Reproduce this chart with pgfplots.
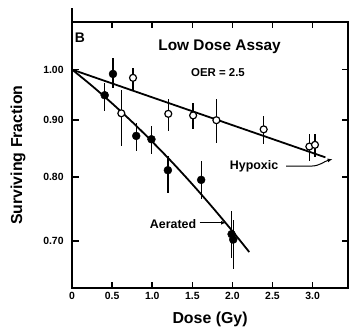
\documentclass[border=0pt]{standalone}
\usepackage{pgfplots}
\pgfplotsset{compat=1.18}
\usepackage{fontspec}
\setmainfont{Liberation Sans}
\usetikzlibrary{arrows.meta}
\begin{document}
\begin{tikzpicture}
\begin{axis}[
  scale only axis, width=276.7bp, height=267.6bp,
  xmin=0, xmax=3.442, ymode=log, ymin=0.634, ymax=1.105,
  xtick={0,0.5,1.0,1.5,2.0,2.5,3.0},
  xticklabels={0,0.5,1.0,1.5,2.0,2.5,3.0},
  ytick={0.7,0.8,0.9,1.0},
  yticklabels={0.70,0.80,0.90,1.00},
  yminorticks=false, xminorticks=false,
  tick align=inside, major tick length=6.5bp,
  axis line style={line width=2bp, black},
  tick style={line width=1.6bp, black},
  ticklabel style={font=\fontsize{10.5}{12}\selectfont\bfseries},
  yticklabel style={xshift=-5bp},
  /pgf/number format/assume math mode=true,
  xlabel={Dose (Gy)}, ylabel={Surviving Fraction},
  label style={font=\fontsize{16}{18}\selectfont\bfseries},
  xlabel style={at={(axis description cs:0.5,-0.1158)}, anchor=center},
  ylabel style={at={(axis description cs:-0.1955,0.5)}, anchor=center},
  clip=false,
]
% fitted lines
\addplot[black, line width=1.8bp, no marks] coordinates {(0,1.0) (3.16,0.833)};
\addplot[black, line width=1.8bp, no marks, smooth] coordinates {
  (0,1.0) (0.25,0.9665) (0.5,0.9319) (0.75,0.8967) (1.0,0.8606)
  (1.25,0.8243) (1.5,0.7877) (1.75,0.7510) (2.0,0.7145) (2.21,0.684)};
% hypoxic (open)
\addplot[only marks, mark=*, mark size=3.5bp,
  mark options={fill=white, draw=black, line width=1.2bp},
  error bars/.cd, y dir=both, y explicit,
  error bar style={line width=1.3bp, black}, error mark=none]
  coordinates {
  (0.614,0.913) += (0,0.046) -= (0,0.060)
  (0.76,0.983) += (0,0.020) -= (0,0.024)
  (1.20,0.912) += (0,0.028) -= (0,0.032)
  (1.51,0.909) += (0,0.024) -= (0,0.026)
  (1.80,0.900) += (0,0.040) -= (0,0.041)
  (2.39,0.883) += (0,0.025) -= (0,0.027)
  (2.96,0.852) += (0,0.022) -= (0,0.025)
  (3.03,0.855) += (0,0.019) -= (0,0.022)
  };
% aerated (filled)
\addplot[only marks, mark=*, mark size=4bp,
  mark options={fill=black, draw=black},
  error bars/.cd, y dir=both, y explicit,
  error bar style={line width=1.3bp, black}, error mark=none]
  coordinates {
  (0.407,0.948) += (0,0.025) -= (0,0.031)
  (0.51,0.991) += (0,0.034) -= (0,0.028)
  (0.80,0.871) += (0,0.024) -= (0,0.027)
  (0.99,0.865) += (0,0.024) -= (0,0.027)
  (1.195,0.811) += (0,0.024) -= (0,0.037)
  (1.61,0.795) += (0,0.032) -= (0,0.031)
  (1.99,0.710) += (0,0.035) -= (0,0.035)
  (2.01,0.702) += (0,0.030) -= (0,0.042)
  };
% frame and ticks
\draw[line width=2bp] (rel axis cs:0,0) rectangle (rel axis cs:1,1);
\draw[line width=2bp] (rel axis cs:0,1) -- ([yshift=13.5bp]rel axis cs:0,1);
\pgfplotsinvokeforeach{0.5,1.0,1.5,2.0,2.5,3.0}{
  \draw[line width=1.6bp] (axis cs:#1,0.634) -- ([yshift=6.5bp]axis cs:#1,0.634);
  \draw[line width=1.6bp] (axis cs:#1,1.105) -- ([yshift=-6.5bp]axis cs:#1,1.105);
}
\pgfplotsinvokeforeach{0.7,0.8,0.9,1.0}{
  \draw[line width=1.6bp] (axis cs:0,#1) -- ([xshift=6.5bp]axis cs:0,#1);
  \draw[line width=1.6bp] (axis cs:3.442,#1) -- ([xshift=-6.5bp]axis cs:3.442,#1);
}
% annotations
\node[font=\fontsize{14}{16}\selectfont\bfseries] at (axis cs:0.096,1.068) {B};
\node[font=\fontsize{15.5}{17}\selectfont\bfseries] at (axis cs:1.84,1.049) {Low Dose Assay};
\node[font=\fontsize{11.5}{13}\selectfont\bfseries] at (axis cs:1.82,0.9945) {OER = 2.5};
\node[font=\fontsize{12.5}{14}\selectfont\bfseries] at (axis cs:2.27,0.818) {Hypoxic};
\node[font=\fontsize{12.5}{14}\selectfont\bfseries] at (axis cs:1.26,0.725) {Aerated};
\draw[-{Latex[length=5bp,width=4bp]}, line width=1bp] (axis cs:1.59,0.727) -- (axis cs:1.92,0.727);
\draw[-{Latex[length=5bp,width=4bp]}, line width=1bp] (axis cs:2.67,0.818) -- (axis cs:2.98,0.818) to[out=0,in=195] (axis cs:3.25,0.830);
\path ([xshift=-72.3bp,yshift=-44.7bp]rel axis cs:0,0) rectangle ([yshift=21.7bp]rel axis cs:1,1);
\end{axis}
\end{tikzpicture}
\end{document}
